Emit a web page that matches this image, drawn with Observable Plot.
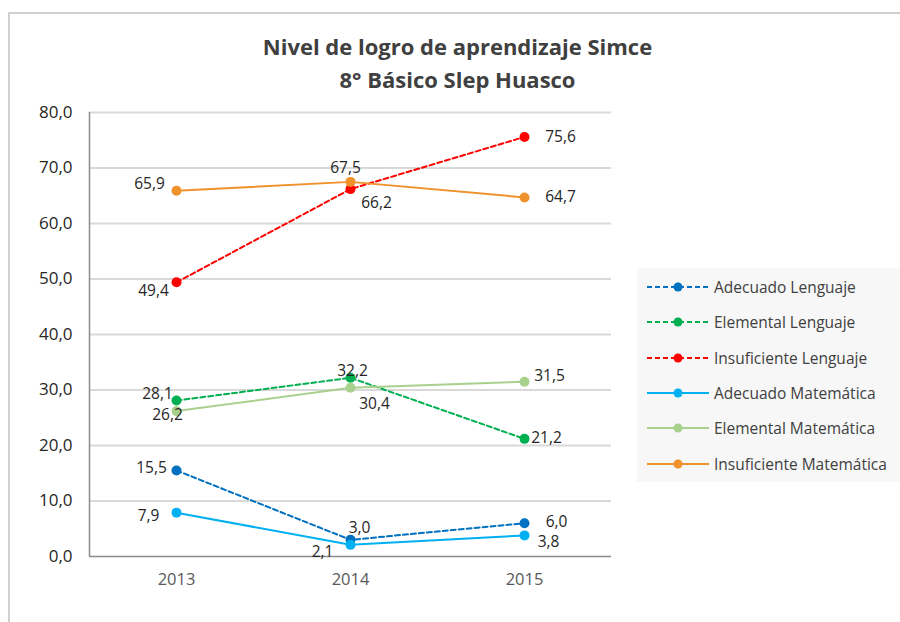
<!DOCTYPE html>
<html>
<head>
<meta charset="utf-8">
<script src="https://cdn.jsdelivr.net/npm/d3@7"></script>
<script src="https://cdn.jsdelivr.net/npm/@observablehq/plot@0.6"></script>
<style>
  html, body { margin: 0; padding: 0; background: #fff; }
  #wrap { position: relative; width: 900px; height: 622px; overflow: hidden; font-family: "Open Sans", sans-serif; }
  #frame { position: absolute; left: 8px; top: 12px; width: 900px; height: 620px; border-left: 2px solid #D0D0D0; border-top: 2px solid #D0D0D0; }
  #title { position: absolute; left: 10px; width: 895px; top: 30px; text-align: center; font-weight: bold; font-size: 22px; line-height: 33px; color: #404040; }
  #legend { position: absolute; left: 637px; top: 268px; width: 263px; height: 214px; background: #F7F7F7; }
  .item { position: absolute; left: 10px; height: 20px; display: flex; align-items: center; font-size: 15.5px; color: #404040; white-space: nowrap; }
  .item svg { margin-right: 5px; }
  #chart { position: absolute; left: 0; top: 0; }
</style>
</head>
<body>
<div id="wrap">
  <div id="frame"></div>
  <div id="chart"></div>
  <div id="title">Nivel de logro de aprendizaje Simce<br>8° Básico Slep Huasco</div>
  <div id="legend"></div>
</div>
<script>
const years = ["2013", "2014", "2015"];
const seriesNames = ["Adecuado Lenguaje", "Elemental Lenguaje", "Insuficiente Lenguaje",
  "Adecuado Matemática", "Elemental Matemática", "Insuficiente Matemática"];
const adecuadoLenguaje = [15.5, 3.0, 6.0];
const elementalLenguaje = [28.1, 32.2, 21.2];
const insuficienteLenguaje = [49.4, 66.2, 75.6];
const adecuadoMatematica = [7.9, 2.1, 3.8];
const elementalMatematica = [26.2, 30.4, 31.5];
const insuficienteMatematica = [65.9, 67.5, 64.7];
const yTicks = [0, 10, 20, 30, 40, 50, 60, 70, 80];

// styles
const colors = ["#0070C0", "#00B050", "#FF0000", "#00B0F0", "#A9D18E", "#F0922B"];
const dashed = [true, true, true, false, false, false];
// label placement per series per year: [dx, dy]
const labelOffsets = [
  [[-25, -2], [9, -12], [32, -1]],
  [[-19, -7], [2, -7], [22, -1]],
  [[-23, 9], [26, 14], [36, 0]],
  [[-28, 3], [-28, 7], [24, 7]],
  [[-9, 4], [24, 16], [25, -6]],
  [[-27, -7], [-5, -14], [36, 0]]
];

const values = [adecuadoLenguaje, elementalLenguaje, insuficienteLenguaje,
  adecuadoMatematica, elementalMatematica, insuficienteMatematica];

const rows = [];
values.forEach((arr, s) => arr.forEach((v, i) => rows.push({
  serie: seriesNames[s], s, year: years[i], value: v,
  dx: labelOffsets[s][i][0], dy: labelOffsets[s][i][1]
})));

const fmt = v => d3.format(".1f")(v).replace(".", ",");

const marks = [
  Plot.ruleY(yTicks.filter(d => d > 0), {stroke: "#D9D9D9", strokeWidth: 2}),
  Plot.ruleY([0], {stroke: "#8C8C8C", strokeWidth: 1.5}),
];
seriesNames.forEach((name, s) => {
  const data = rows.filter(r => r.s === s);
  marks.push(Plot.line(data, {x: "year", y: "value", stroke: colors[s], strokeWidth: 2,
    strokeDasharray: dashed[s] ? "5,3" : null}));
});
seriesNames.forEach((name, s) => {
  const data = rows.filter(r => r.s === s);
  marks.push(Plot.dot(data, {x: "year", y: "value", fill: colors[s], r: 5}));
});
rows.forEach(r => {
  marks.push(Plot.text([r], {x: "year", y: "value", text: d => fmt(d.value),
    dx: r.dx, dy: r.dy, fill: "#262626", fontSize: 15.5}));
});

const chart = Plot.plot({
  width: 900, height: 622,
  marginLeft: 89, marginRight: 289, marginTop: 112, marginBottom: 66,
  style: {fontFamily: "Open Sans, sans-serif", background: "transparent", overflow: "visible"},
  x: {type: "point", domain: years, padding: 0.5, label: null},
  y: {domain: [0, 80], label: null},
  marks: [
    Plot.axisY({ticks: yTicks, tickFormat: fmt, tickSize: 0, tickPadding: 17, fontSize: 17, fill: "#262626"}),
    Plot.axisX({tickSize: 0, tickPadding: 17, fontSize: 16.5, fill: "#595959"}),
    ...marks
  ]
});
// left axis line
const svg = d3.select(chart);
svg.append("line").attr("x1", 89.5).attr("x2", 89.5).attr("y1", 112).attr("y2", 556).attr("stroke", "#8C8C8C").attr("stroke-width", 1.5);
document.getElementById("chart").appendChild(chart);

// legend
const legend = document.getElementById("legend");
seriesNames.forEach((name, s) => {
  const div = document.createElement("div");
  div.className = "item";
  div.style.top = (9 + s * 35.3) + "px";
  const ns = "http://www.w3.org/2000/svg";
  const sv = document.createElementNS(ns, "svg");
  sv.setAttribute("width", 62); sv.setAttribute("height", 12);
  const ln = document.createElementNS(ns, "line");
  ln.setAttribute("x1", 0); ln.setAttribute("x2", 62); ln.setAttribute("y1", 6); ln.setAttribute("y2", 6);
  ln.setAttribute("stroke", colors[s]); ln.setAttribute("stroke-width", 2);
  if (dashed[s]) ln.setAttribute("stroke-dasharray", "5,3");
  const c = document.createElementNS(ns, "circle");
  c.setAttribute("cx", 31); c.setAttribute("cy", 6); c.setAttribute("r", 4.5); c.setAttribute("fill", colors[s]);
  sv.appendChild(ln); sv.appendChild(c);
  div.appendChild(sv);
  div.appendChild(document.createTextNode(name));
  legend.appendChild(div);
});
</script>
</body>
</html>
